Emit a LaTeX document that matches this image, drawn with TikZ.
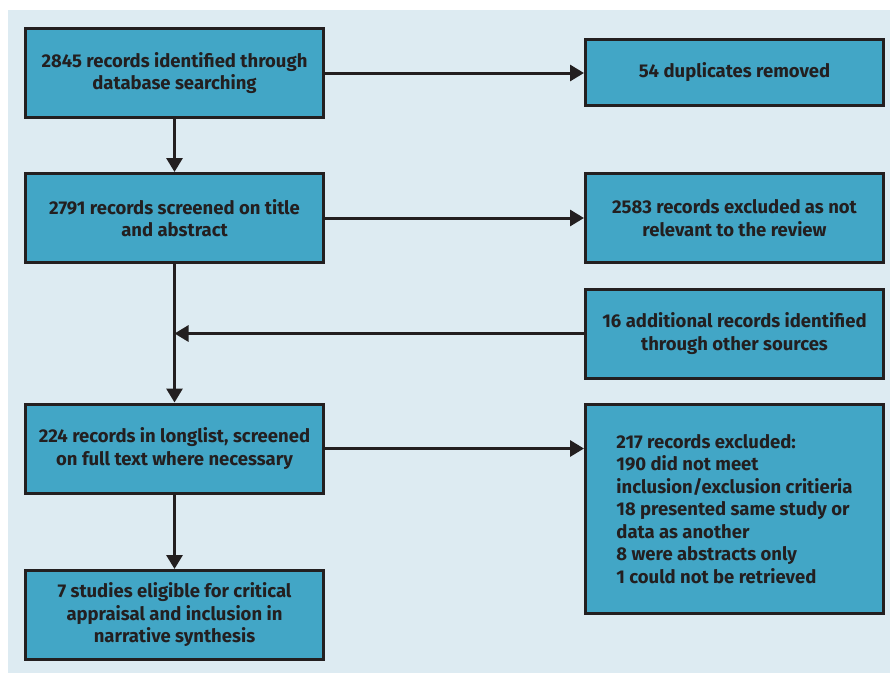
\documentclass[tikz,border=0pt]{standalone}
\usepackage{fontspec}
\setmainfont{Fira Sans}
\usetikzlibrary{arrows.meta, positioning}
\definecolor{panelbg}{HTML}{DDEBF2}
\definecolor{boxfill}{HTML}{42A6C6}
\definecolor{ink}{HTML}{231F20}

\begin{document}
\begin{tikzpicture}[
    x=1pt, y=-1pt,
    box/.style={draw=ink, line width=3pt, fill=boxfill, minimum width=298pt, minimum height=#1, inner sep=2pt, align=center, font=\fontsize{18.5}{22.5}\selectfont\bfseries, text=ink},
    box/.default=89pt,
    flow/.style={-{Triangle[length=14pt, width=16pt]}, line width=3pt, draw=ink, fill=ink},
]
\useasboundingbox (0,0) rectangle (890,673);
\fill[panelbg] (8,10) rectangle (890,673);

% Left column
\node[box] (ident) at (174.5, 73) {2845 records identified through\\database searching};
\node[box] (screen) at (174.5, 218) {2791 records screened on title\\and abstract};
\node[box] (long) at (174.5, 448.5) {224 records in longlist, screened\\on full text where necessary};
\node[box] (final) at (174.5, 615) {7 studies eligible for critical\\appraisal and inclusion in\\narrative synthesis};

% Right column
\node[box=66pt] (dup) at (734.5, 72.5) {54 duplicates removed};
\node[box] (excl) at (734.5, 218) {2583 records excluded as not\\relevant to the review};
\node[box] (extra) at (734.5, 333.5) {16 additional records identified\\through other sources};
\node[box=209pt, align=left] (reasons) at (734.5, 509) {217 records excluded:\\190 did not meet\\inclusion/exclusion critieria\\18 presented same study or\\data as another\\8 were abstracts only\\1 could not be retrieved};

\coordinate (join) at (screen.south |- extra.west);

% Flow
\draw[flow] (ident) -- (ident -| dup.west);
\draw[flow] (ident) -- (screen);
\draw[flow] (screen) -- (excl);
\draw[flow] (screen) -- (long);
\draw[flow] (extra) -- (join);
\draw[flow] (long) -- (long -| reasons.west);
\draw[flow] (long) -- (final);

\end{tikzpicture}
\end{document}
